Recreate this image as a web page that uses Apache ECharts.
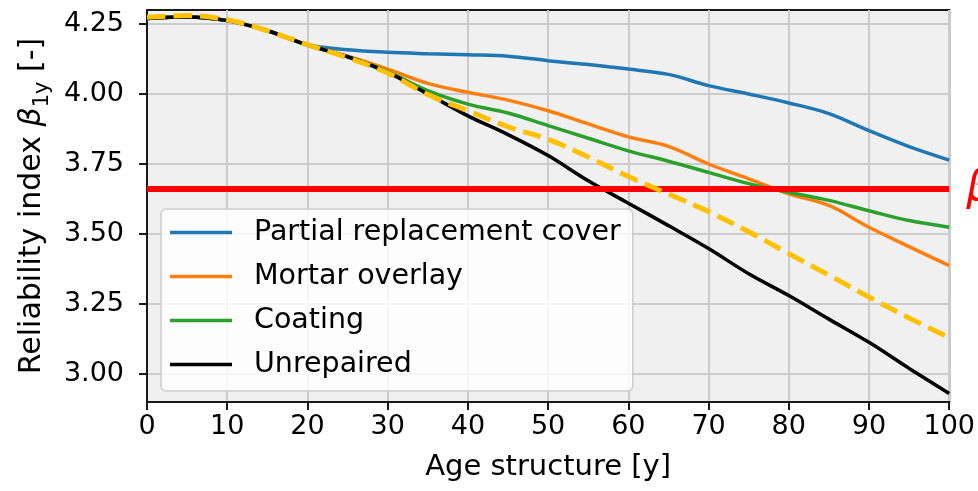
<!DOCTYPE html>
<html>
<head>
<meta charset="utf-8">
<script src="https://cdn.jsdelivr.net/npm/echarts@6/dist/echarts.min.js"></script>
<style>
  html, body { margin: 0; padding: 0; background: #fff; }
  #reliability { width: 978px; height: 491px; }
</style>
</head>
<body>
<div id="reliability"></div>
<script>
// age of structure [y]
var ages = [0, 5, 10, 15, 20, 25, 30, 35, 40, 45, 50, 55, 60, 65, 70, 75, 80, 85, 90, 95, 100];

var partialCover = [4.27, 4.275, 4.262, 4.226, 4.176, 4.158, 4.149, 4.144, 4.14, 4.135, 4.119, 4.105, 4.089, 4.07, 4.03, 4.0, 3.968, 3.93, 3.869, 3.812, 3.764];
var mortarOverlay = [4.27, 4.275, 4.262, 4.226, 4.175, 4.135, 4.089, 4.038, 4.006, 3.978, 3.94, 3.893, 3.847, 3.813, 3.75, 3.697, 3.643, 3.602, 3.524, 3.455, 3.387];
var coating = [4.27, 4.275, 4.262, 4.226, 4.175, 4.133, 4.08, 4.012, 3.964, 3.932, 3.887, 3.842, 3.797, 3.76, 3.72, 3.68, 3.649, 3.62, 3.583, 3.548, 3.524];
var unrepaired = [4.27, 4.275, 4.262, 4.226, 4.175, 4.133, 4.077, 4.0, 3.922, 3.855, 3.78, 3.69, 3.61, 3.53, 3.448, 3.358, 3.28, 3.196, 3.113, 3.02, 2.93];
// dashed fit, not in legend
var fitted = [4.274, 4.28, 4.265, 4.226, 4.176, 4.13, 4.075, 3.998, 3.94, 3.883, 3.838, 3.775, 3.705, 3.643, 3.58, 3.508, 3.43, 3.353, 3.275, 3.2, 3.13];

var betaTarget = 3.663;
var yTicks = [3.0, 3.25, 3.5, 3.75, 4.0, 4.25];

var FONT = "DejaVu Sans";

function pairs(vals) {
  return ages.map(function (a, i) { return [a, vals[i]]; });
}

var chart = echarts.init(document.getElementById("reliability"));

var option = {
  animation: false,
  textStyle: { fontFamily: FONT },
  grid: {
    left: 147,
    right: 28,
    top: 10,
    bottom: 89,
    show: true,
    backgroundColor: "#f0f0f0",
    borderColor: "#1a1a1a",
    borderWidth: 2
  },
  legend: {
    data: ["Partial replacement cover", "Mortar overlay", "Coating", "Unrepaired"],
    orient: "vertical",
    left: 161,
    top: 209,
    icon: "rect",
    itemWidth: 62,
    itemHeight: 3.5,
    itemGap: 15,
    padding: [9, 12, 12, 9],
    backgroundColor: "rgba(255,255,255,0.82)",
    borderColor: "#cccccc",
    borderWidth: 1.5,
    borderRadius: 5,
    textStyle: {
      fontFamily: FONT,
      fontSize: 28.5,
      lineHeight: 28,
      color: "#000",
      padding: [0, 0, 0, 17]
    }
  },
  xAxis: {
    type: "value",
    min: 0,
    max: 100,
    interval: 10,
    name: "Age structure [y]",
    nameLocation: "middle",
    nameGap: 51,
    nameTextStyle: { fontFamily: FONT, fontSize: 29, color: "#000" },
    axisLine: { onZero: false, lineStyle: { color: "#1a1a1a", width: 2 } },
    axisTick: { length: 8, lineStyle: { color: "#1a1a1a", width: 2 } },
    axisLabel: { fontFamily: FONT, fontSize: 27, color: "#000", margin: 11 },
    splitLine: { show: true, lineStyle: { color: "#cccccc", width: 2 } }
  },
  yAxis: {
    type: "value",
    min: 2.9,
    max: 4.3,
    name: "{a|Reliability index }{b|β}{c|1y}{a| [-]}",
    nameLocation: "middle",
    nameGap: 94,
    nameRotate: 90,
    nameTextStyle: {
      rich: {
        a: { fontFamily: FONT, fontSize: 30, color: "#000", verticalAlign: "bottom", padding: [0, 0, 6, 0] },
        b: { fontFamily: FONT, fontSize: 30, fontStyle: "italic", color: "#000", verticalAlign: "bottom", padding: [0, 0, 6, 0] },
        c: { fontFamily: FONT, fontSize: 21, color: "#000", verticalAlign: "bottom" }
      }
    },
    axisLine: { onZero: false, lineStyle: { color: "#1a1a1a", width: 2 } },
    axisTick: { length: 8, customValues: yTicks, lineStyle: { color: "#1a1a1a", width: 2 } },
    axisLabel: {
      customValues: yTicks,
      fontFamily: FONT,
      fontSize: 27,
      color: "#000",
      margin: 23,
      formatter: function (v) { return v.toFixed(2); }
    },
    splitLine: { show: true, lineStyle: { color: "#cccccc", width: 2 } }
  },
  series: [
    {
      name: "Partial replacement cover",
      type: "line",
      data: pairs(partialCover),
      smooth: 0.35,
      symbol: "none",
      lineStyle: { color: "#1f77b4", width: 3.5 },
      itemStyle: { color: "#1f77b4" }
    },
    {
      name: "Mortar overlay",
      type: "line",
      data: pairs(mortarOverlay),
      smooth: 0.35,
      symbol: "none",
      lineStyle: { color: "#ff7f0e", width: 3.5 },
      itemStyle: { color: "#ff7f0e" }
    },
    {
      name: "Coating",
      type: "line",
      data: pairs(coating),
      smooth: 0.35,
      symbol: "none",
      lineStyle: { color: "#2ca02c", width: 3.5 },
      itemStyle: { color: "#2ca02c" }
    },
    {
      name: "Unrepaired",
      type: "line",
      data: pairs(unrepaired),
      smooth: 0.35,
      symbol: "none",
      lineStyle: { color: "#000000", width: 3.5 },
      itemStyle: { color: "#000000" },
      markLine: {
        silent: true,
        symbol: "none",
        lineStyle: { color: "#ff0000", width: 6, type: "solid", cap: "butt" },
        label: {
          show: true,
          position: "end",
          distance: 17,
          formatter: "{b|β}{s|target}",
          rich: {
            b: { fontFamily: FONT, fontSize: 42, fontStyle: "italic", color: "#ff0000" },
            s: { fontFamily: FONT, fontSize: 28, fontStyle: "italic", color: "#ff0000" }
          }
        },
        data: [{ yAxis: betaTarget }]
      }
    },
    {
      name: "Fit",
      type: "line",
      data: pairs(fitted),
      smooth: 0.35,
      symbol: "none",
      z: 5,
      lineStyle: { color: "#ffc000", width: 5, type: [18.5, 8] },
      itemStyle: { color: "#ffc000" }
    }
  ]
};

chart.setOption(option);
</script>
</body>
</html>
